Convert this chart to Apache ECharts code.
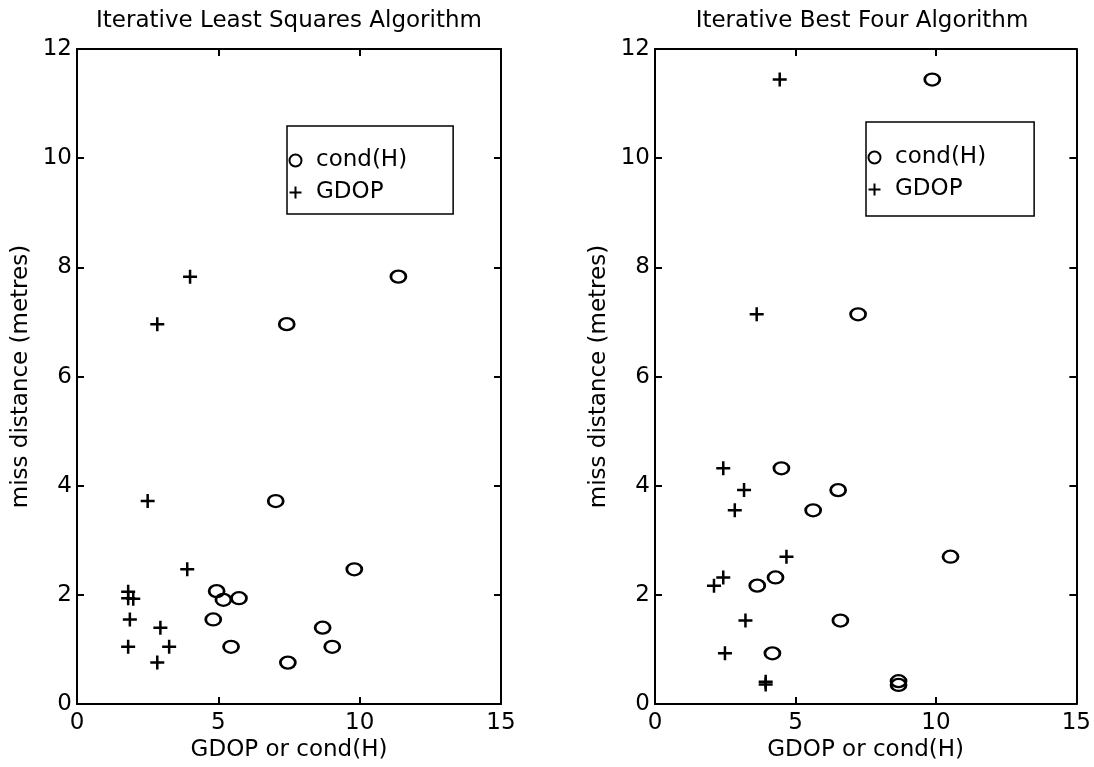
<!DOCTYPE html>
<html>
<head>
<meta charset="utf-8">
<script src="https://cdn.jsdelivr.net/npm/echarts@6/dist/echarts.min.js"></script>
<style>
  html, body { margin: 0; padding: 0; background: #fff; }
  #chart { width: 1094px; height: 767px; }
</style>
</head>
<body>
<div id="chart"></div>
<script>
// left panel: Iterative Least Squares
const lsqCondX = [11.37, 7.42, 7.03, 9.81, 4.94, 5.18, 5.73, 4.82, 8.69, 5.45, 9.03, 7.46];
const lsqCondY = [7.83, 6.96, 3.72, 2.47, 2.07, 1.91, 1.94, 1.55, 1.40, 1.05, 1.05, 0.76];
const lsqGdopX = [4.00, 2.84, 2.50, 3.90, 1.81, 1.81, 1.99, 1.87, 2.95, 1.81, 3.26, 2.84];
const lsqGdopY = [7.83, 6.96, 3.72, 2.47, 2.06, 1.94, 1.93, 1.55, 1.40, 1.05, 1.05, 0.76];

// right panel: Iterative Best Four
const b4CondX = [9.87, 7.23, 4.50, 6.52, 5.63, 10.52, 4.29, 3.64, 6.60, 4.18, 8.67, 8.67];
const b4CondY = [11.44, 7.14, 4.32, 3.92, 3.55, 2.70, 2.32, 2.17, 1.53, 0.93, 0.42, 0.35];
const b4GdopX = [4.44, 3.62, 2.43, 3.17, 2.84, 4.68, 2.43, 2.10, 3.22, 2.49, 3.94, 3.94];
const b4GdopY = [11.44, 7.14, 4.32, 3.92, 3.55, 2.70, 2.32, 2.17, 1.53, 0.93, 0.41, 0.36];

const titles = ['Iterative Least Squares Algorithm', 'Iterative Best Four Algorithm'];
const seriesNames = ['cond(H)', 'GDOP'];
const xName = 'GDOP or cond(H)';
const yName = 'miss distance (metres)';

const FONT = 'DejaVu Sans';
const FS = 23;
const PLUS = 'path://M0,5L10,5M5,0L5,10';

const zip = (xs, ys) => xs.map((x, i) => [x, ys[i]]);

const grids = [
  { left: 77, top: 49, width: 424, height: 662 },
  { left: 655, top: 49, width: 422, height: 662 }
];

const lineStyle = { color: '#000', width: 2 };
const txt = { color: '#000', fontSize: FS, fontFamily: FONT };

function xAxes(gi) {
  const base = {
    gridIndex: gi, type: 'value', min: 0, max: 15, interval: 5,
    axisLine: { onZero: false, lineStyle },
    axisTick: { inside: true, length: 7, lineStyle },
    splitLine: { show: false }
  };
  return [
    Object.assign({}, base, {
      position: 'bottom',
      axisLabel: Object.assign({ margin: 7 }, txt),
      name: xName, nameLocation: 'middle', nameGap: 30,
      nameTextStyle: txt
    }),
    Object.assign({}, base, { position: 'top', axisLabel: { show: false } })
  ];
}

function yAxes(gi) {
  const base = {
    gridIndex: gi, type: 'value', min: 0, max: 12, interval: 2,
    axisLine: { onZero: false, lineStyle },
    axisTick: { inside: true, length: 7, lineStyle },
    splitLine: { show: false }
  };
  return [
    Object.assign({}, base, {
      position: 'left',
      axisLabel: Object.assign({ margin: 5 }, txt),
      name: yName, nameLocation: 'middle', nameGap: 44, nameRotate: 90,
      nameTextStyle: txt
    }),
    Object.assign({}, base, { position: 'right', axisLabel: { show: false } })
  ];
}

const markStyle = { color: 'none', borderColor: '#000', borderWidth: 2.5, opacity: 1 };

function scatter(name, gi, data) {
  const isCond = name === seriesNames[0];
  return {
    name, type: 'scatter',
    xAxisIndex: gi * 2, yAxisIndex: gi * 2,
    symbol: isCond ? 'circle' : PLUS,
    symbolSize: isCond ? [15, 12] : 14,
    itemStyle: markStyle,
    emphasis: { disabled: true },
    data
  };
}

function legend(left, top, padding) {
  return {
    left, top, orient: 'vertical',
    data: seriesNames,
    itemWidth: 13, itemHeight: 12, itemGap: 9,
    padding, borderColor: '#000', borderWidth: 1.5,
    selectedMode: false,
    textStyle: Object.assign({ lineHeight: 22, padding: [0, 0, 0, 9] }, txt)
  };
}

const chart = echarts.init(document.getElementById('chart'));
chart.setOption({
  backgroundColor: '#fff',
  animation: false,
  title: [
    { text: titles[0], left: 289, top: 10, textAlign: 'center', padding: 0,
      textStyle: Object.assign({ fontWeight: 'normal' }, txt) },
    { text: titles[1], left: 862, top: 10, textAlign: 'center', padding: 0,
      textStyle: Object.assign({ fontWeight: 'normal' }, txt) }
  ],
  legend: [
    legend(287, 126, [23, 46, 10, 0]),
    legend(866, 122, [24, 48, 15, 0])
  ],
  grid: grids,
  xAxis: xAxes(0).concat(xAxes(1)),
  yAxis: yAxes(0).concat(yAxes(1)),
  series: [
    scatter(seriesNames[0], 0, zip(lsqCondX, lsqCondY)),
    scatter(seriesNames[1], 0, zip(lsqGdopX, lsqGdopY)),
    scatter(seriesNames[0], 1, zip(b4CondX, b4CondY)),
    scatter(seriesNames[1], 1, zip(b4GdopX, b4GdopY))
  ]
});
</script>
</body>
</html>
